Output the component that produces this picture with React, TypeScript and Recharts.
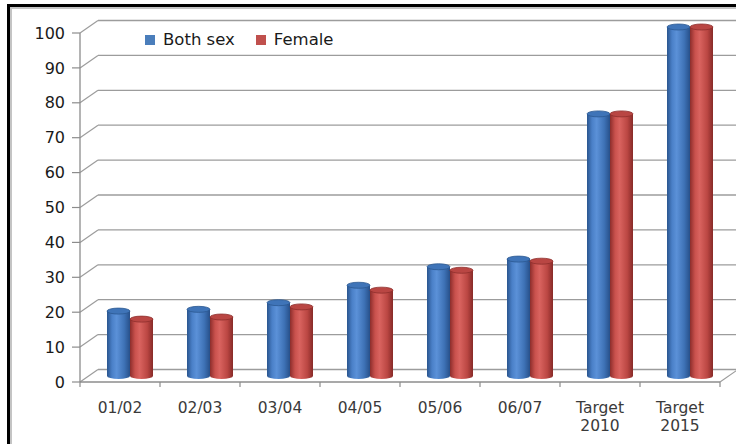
import React from 'react';
import { BarChart, Bar, XAxis, YAxis, CartesianGrid, Legend } from 'recharts';

const categories = ['01/02', '02/03', '03/04', '04/05', '05/06', '06/07', 'Target 2010', 'Target 2015'];
const bothSex = [18.6, 19.1, 21.0, 26.0, 31.3, 33.5, 75.1, 100];
const female = [16.3, 16.9, 19.8, 24.6, 30.3, 32.9, 75.1, 100];
const yTicks = [0, 10, 20, 30, 40, 50, 60, 70, 80, 90, 100];

const data = categories.map((c, i) => ({ category: c, both: bothSex[i], female: female[i] }));

const FONT = '"DejaVu Sans", Verdana, sans-serif';
const GRID = '#9c9c9c';
const AXIS = '#8c8c8c';
// 3D depth offsets (style)
const DX = 10;
const DY = -6;
const BX = 18;
const BY = -12.5;

const makeCylinder = (gradId: string, capFill: string, capStroke: string) => (props: any) => {
  const { x, y, width, height } = props;
  if (x == null || y == null || !width || height == null) return <g />;
  const cx = x + DX;
  const cy = y + DY;
  const rx = width / 2;
  const ry = 3;
  return (
    <g>
      <path
        d={`M${cx},${cy} L${cx},${cy + height} A${rx},${ry} 0 0 0 ${cx + width},${cy + height} L${cx + width},${cy} Z`}
        fill={`url(#${gradId})`}
      />
      <ellipse cx={cx + rx} cy={cy} rx={rx} ry={ry} fill={capFill} stroke={capStroke} strokeWidth={0.8} />
    </g>
  );
};

const blueShape = makeCylinder('gradBlue', '#3f74b8', '#2b5891');
const redShape = makeCylinder('gradRed', '#b94643', '#8e2e2c');

const renderGridLine = (props: any) => {
  const { x1, y1, x2, index } = props;
  const isFloor = props.y != null && props.height != null && Math.abs(y1 - (props.y + props.height)) < 1;
  return (
    <g key={`grid-${index}`}>
      <line x1={x1 + BX} y1={y1 + BY} x2={x2 + BX} y2={y1 + BY} stroke={GRID} strokeWidth={1.3} />
      <line x1={x1} y1={y1} x2={x1 + BX} y2={y1 + BY} stroke={GRID} strokeWidth={1.2} />
      {isFloor && <line x1={x2} y1={y1} x2={x2 + BX} y2={y1 + BY} stroke={GRID} strokeWidth={1.2} />}
    </g>
  );
};

const XTick = (props: any) => {
  const { x, y, payload, index } = props;
  const half = payload && payload.offset != null ? payload.offset : 0;
  const lines = String(payload.value).split(' ');
  return (
    <g>
      <line x1={x + half} y1={y} x2={x + half} y2={y + 5} stroke={AXIS} strokeWidth={1.2} />
      {index === 0 && <line x1={x - half} y1={y} x2={x - half} y2={y + 5} stroke={AXIS} strokeWidth={1.2} />}
      <text x={x} y={y + 30.5} textAnchor="middle" fontFamily={FONT} fontSize={15.5} fill="#3a3a3a">
        {lines.map((l, i) => (
          <tspan key={i} x={x} dy={i === 0 ? 0 : 18}>
            {l}
          </tspan>
        ))}
      </text>
    </g>
  );
};

const renderLegend = (props: any) => {
  const payload = props.payload || [];
  return (
    <div style={{ display: 'flex', alignItems: 'center', fontFamily: FONT, fontSize: 16.5, color: '#1a1a1a', whiteSpace: 'nowrap' }}>
      {payload.map((p: any, i: number) => (
        <div key={i} style={{ display: 'flex', alignItems: 'center', marginRight: 21 }}>
          <span style={{ display: 'inline-block', width: 10, height: 10, background: p.color, marginRight: 8 }} />
          <span>{p.value}</span>
        </div>
      ))}
    </div>
  );
};

export default function App() {
  return (
    <div style={{ position: 'absolute', left: 0, top: 0, width: 736, height: 444, overflow: 'hidden', background: '#fff' }}>
      <BarChart
        width={736}
        height={444}
        data={data}
        margin={{ top: 33, right: 16, bottom: 0, left: 0 }}
        barSize={23}
        barGap={0}
        style={{ position: 'absolute', left: 0, top: 0 }}
      >
        <defs>
          <linearGradient id="gradBlue" x1="0" y1="0" x2="1" y2="0">
            <stop offset="0%" stopColor="#2a558e" />
            <stop offset="22%" stopColor="#4a80c8" />
            <stop offset="42%" stopColor="#5b91d8" />
            <stop offset="75%" stopColor="#3e72b6" />
            <stop offset="100%" stopColor="#27508a" />
          </linearGradient>
          <linearGradient id="gradRed" x1="0" y1="0" x2="1" y2="0">
            <stop offset="0%" stopColor="#8c2d2b" />
            <stop offset="22%" stopColor="#c9514d" />
            <stop offset="42%" stopColor="#d9635f" />
            <stop offset="75%" stopColor="#bb4743" />
            <stop offset="100%" stopColor="#872a28" />
          </linearGradient>
        </defs>
        <CartesianGrid vertical={false} horizontal={renderGridLine} />
        <XAxis
          dataKey="category"
          height={62}
          tickSize={0}
          tickMargin={0}
          tick={<XTick />}
          interval={0}
          axisLine={{ stroke: AXIS, strokeWidth: 1.3 }}
        />
        <YAxis
          width={80}
          domain={[0, 100]}
          ticks={yTicks}
          interval={0}
          tickSize={8}
          tickMargin={7}
          tickLine={{ stroke: AXIS, strokeWidth: 1.2 }}
          axisLine={{ stroke: AXIS, strokeWidth: 1.3 }}
          tick={{ fontFamily: FONT, fontSize: 16, fill: '#1a1a1a' }}
        />
        <Legend
          layout="horizontal"
          verticalAlign="middle"
          align="center"
          content={renderLegend}
          wrapperStyle={{ position: 'absolute', left: 145, top: 30, width: 'auto', height: 'auto' }}
        />
        <Bar dataKey="both" name="Both sex" fill="#4a7ebb" shape={blueShape} isAnimationActive={false} />
        <Bar dataKey="female" name="Female" fill="#c0504d" shape={redShape} isAnimationActive={false} />
      </BarChart>
      <div style={{ position: 'absolute', left: 7, top: 4, width: 800, height: 500, borderLeft: '3px solid #000', borderTop: '3px solid #000', pointerEvents: 'none' }} />
      <div style={{ position: 'absolute', left: 10, top: 7, width: 800, height: 500, borderLeft: '2px solid #c4c4c4', borderTop: '2px solid #c4c4c4', pointerEvents: 'none' }} />
    </div>
  );
}
